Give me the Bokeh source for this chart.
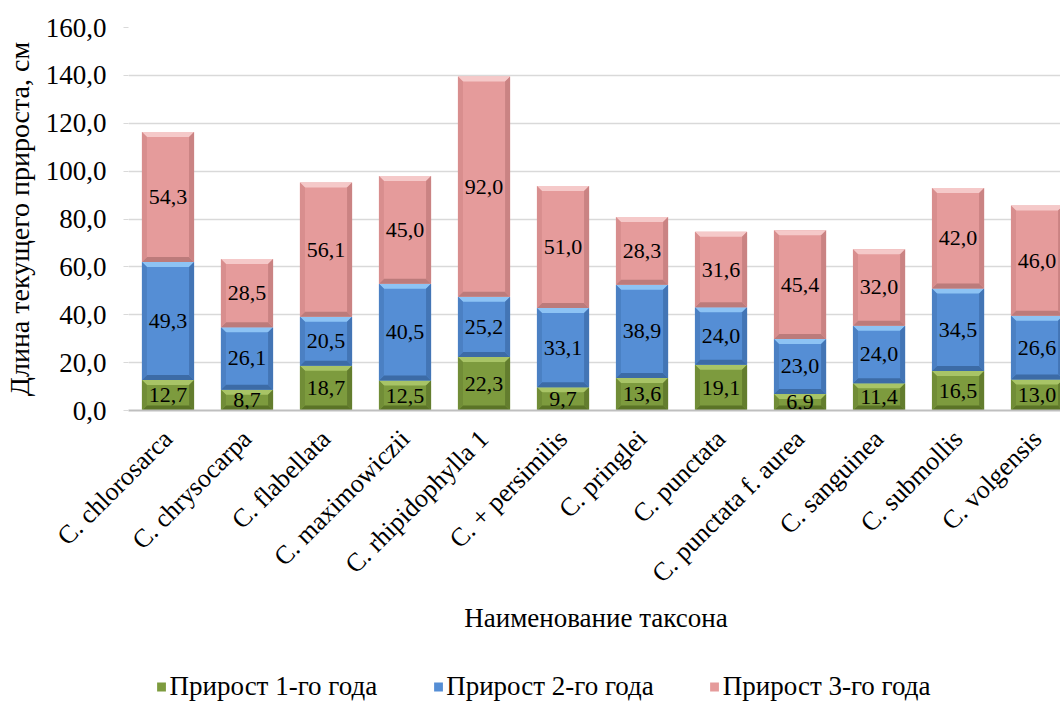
import math
from bokeh.plotting import figure
from bokeh.layouts import column
from bokeh.models import (Range1d, FixedTicker, ColumnDataSource, Legend, LegendItem)
from bokeh.core.properties import value
from bokeh.embed import file_html
from bokeh.resources import INLINE

categories = ["C. chlorosarca", "C. chrysocarpa", "C. flabellata", "C. maximowiczii",
              "C. rhipidophylla 1", "C. + persimilis", "C. pringlei", "C. punctata",
              "C. punctata f. aurea", "C. sanguinea", "C. submollis", "C. volgensis"]
growth_1 = [12.7, 8.7, 18.7, 12.5, 22.3, 9.7, 13.6, 19.1, 6.9, 11.4, 16.5, 13.0]
growth_2 = [49.3, 26.1, 20.5, 40.5, 25.2, 33.1, 38.9, 24.0, 23.0, 24.0, 34.5, 26.6]
growth_3 = [54.3, 28.5, 56.1, 45.0, 92.0, 51.0, 28.3, 31.6, 45.4, 32.0, 42.0, 46.0]
series_names = ["Прирост 1-го года", "Прирост 2-го года", "Прирост 3-го года"]
y_ticks = [0, 20, 40, 60, 80, 100, 120, 140, 160]
y_tick_labels = ["0,0", "20,0", "40,0", "60,0", "80,0", "100,0", "120,0", "140,0", "160,0"]

FONT = "Liberation Serif"
base_cols = ["#7D9B3E", "#558ED5", "#E59B9B"]
top_cols = ["#A8C466", "#8DC3F4", "#F5C9C9"]
bot_cols = ["#5B7427", "#3C6BA6", "#BC7B7B"]
left_cols = ["#718D37", "#4B80C3", "#D88E8E"]
right_cols = ["#637D2E", "#4375B5", "#CA8383"]

p = figure(frame_width=935, frame_height=383, output_backend="svg", toolbar_location=None,
           x_range=Range1d(-0.5, 11.335), y_range=Range1d(0, 160),
           min_border_left=125, min_border_right=0, min_border_top=27,
           min_border_bottom=240, background_fill_color="white",
           border_fill_color="white", outline_line_color=None)

# legend strip below the chart (its bars lie outside its visible range)
p2 = figure(width=1060, height=52, output_backend="svg", toolbar_location=None,
            x_axis_location=None, y_axis_location=None,
            x_range=Range1d(12, 13), y_range=Range1d(150, 151),
            min_border_left=0, min_border_right=102, min_border_top=0,
            min_border_bottom=0, outline_line_color=None,
            background_fill_color="white", border_fill_color="white")
p2.grid.grid_line_color = None

x = list(range(len(categories)))
w = 0.66
bx = 5 / 79.0
by_full = 5 / 2.394

series = [growth_1, growth_2, growth_3]
bottoms = [0.0] * len(categories)
legend_renderers = []
for k, vals in enumerate(series):
    tops = [b + v for b, v in zip(bottoms, vals)]
    src = ColumnDataSource(dict(x=x, top=tops, bottom=bottoms))
    p.vbar(x="x", top="top", bottom="bottom", width=w, source=src,
           fill_color=base_cols[k], line_color=None)
    lr = p2.vbar(x="x", top="top", bottom="bottom", width=w, source=src,
                 fill_color=base_cols[k], line_color=None)
    legend_renderers.append(lr)
    tx, ty, bxs, bys, lx, ly, rx, ry = [], [], [], [], [], [], [], []
    for i in x:
        xl, xr = i - w / 2, i + w / 2
        b, t = bottoms[i], tops[i]
        by = min(by_full, (t - b) / 2.0)
        tx.append([xl, xr, xr - bx, xl + bx]); ty.append([t, t, t - by, t - by])
        bxs.append([xl, xr, xr - bx, xl + bx]); bys.append([b, b, b + by, b + by])
        lx.append([xl, xl + bx, xl + bx, xl]); ly.append([b, b + by, t - by, t])
        rx.append([xr, xr - bx, xr - bx, xr]); ry.append([b, b + by, t - by, t])
    p.patches(tx, ty, fill_color=top_cols[k], line_color=None)
    p.patches(bxs, bys, fill_color=bot_cols[k], line_color=None)
    p.patches(lx, ly, fill_color=left_cols[k], line_color=None)
    p.patches(rx, ry, fill_color=right_cols[k], line_color=None)
    mids = [(b + t) / 2.0 for b, t in zip(bottoms, tops)]
    labels = [f"{v:.1f}".replace(".", ",") for v in vals]
    lsrc = ColumnDataSource(dict(x=x, y=mids, t=labels))
    p.text(x="x", y="y", text="t", source=lsrc, text_font=value(FONT),
           text_font_size="22px", text_align="center", text_baseline="middle",
           text_color="#000000")
    bottoms = tops

p.xgrid.grid_line_color = None
p.ygrid.grid_line_color = "#D9D9D9"
p.ygrid.grid_line_width = 1.5
p.ygrid.ticker = FixedTicker(ticks=y_ticks)

p.yaxis.ticker = FixedTicker(ticks=y_ticks)
p.yaxis.major_label_overrides = {t: s for t, s in zip(y_ticks, y_tick_labels)}
p.yaxis.axis_line_color = None
p.yaxis.major_tick_line_color = "#D9D9D9"
p.yaxis.major_tick_in = 0
p.yaxis.major_tick_out = 5
p.yaxis.minor_tick_line_color = None
p.yaxis.major_label_text_font = FONT
p.yaxis.major_label_text_font_size = "27px"
p.yaxis.major_label_text_color = "#000000"
p.yaxis.major_label_standoff = 17
p.yaxis.axis_label = "Длина текущего прироста, см"
p.yaxis.axis_label_text_font = FONT
p.yaxis.axis_label_text_font_size = "28px"
p.yaxis.axis_label_text_font_style = "normal"
p.yaxis.axis_label_text_color = "#000000"
p.yaxis.axis_label_standoff = 8

p.xaxis.ticker = FixedTicker(ticks=x)
p.xaxis.major_label_overrides = {i: c for i, c in zip(x, categories)}
p.xaxis.major_label_orientation = math.pi / 4
p.xaxis.axis_line_color = "#BFBFBF"
p.xaxis.axis_line_width = 2
p.xaxis.major_tick_line_color = None
p.xaxis.minor_tick_line_color = None
p.xaxis.major_label_text_font = FONT
p.xaxis.major_label_text_font_size = "26px"
p.xaxis.major_label_text_color = "#000000"
p.xaxis.major_label_standoff = 18
p.xaxis.axis_label = "Наименование таксона"
p.xaxis.axis_label_text_font = FONT
p.xaxis.axis_label_text_font_size = "27px"
p.xaxis.axis_label_text_font_style = "normal"
p.xaxis.axis_label_text_color = "#000000"
p.xaxis.axis_label_standoff = 2

legend = Legend(items=[LegendItem(label=n, renderers=[r]) for n, r in zip(series_names, legend_renderers)],
                orientation="horizontal", location="bottom_center",
                label_text_font=FONT, label_text_font_size="27px",
                label_text_color="#000000", glyph_width=11, glyph_height=11,
                spacing=55, label_standoff=3, border_line_color=None,
                background_fill_alpha=0, margin=0, padding=0)
p2.add_layout(legend, "center")

layout = column(p, p2, spacing=0)
open("out.html", "w").write(file_html(layout, INLINE))
